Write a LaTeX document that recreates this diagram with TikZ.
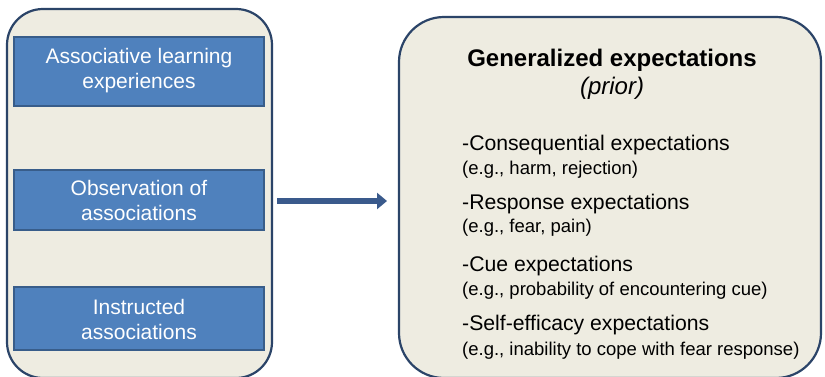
\documentclass[tikz,border=0pt]{standalone}
\usepackage{fontspec}
\setmainfont{Liberation Sans}
\usetikzlibrary{arrows.meta}
\definecolor{panelfill}{HTML}{EEECE1}
\definecolor{panelline}{HTML}{2B4468}
\definecolor{bluefill}{HTML}{4F81BD}
\definecolor{blueline}{HTML}{385D8A}
\definecolor{arrowcol}{HTML}{3A5A8C}
\tikzset{
  panel/.style={draw=panelline, fill=panelfill, line width=2.2pt},
  bluebox/.style={draw=blueline, fill=bluefill, line width=1.2pt},
  bluetext/.style={text=white, align=center, font=\fontsize{21}{25}\selectfont, inner sep=0pt},
  itemhead/.style={anchor=base west, inner sep=0pt, font=\fontsize{21.2}{25}\selectfont},
  itemsub/.style={anchor=base west, inner sep=0pt, font=\fontsize{18.5}{22}\selectfont},
}
\begin{document}
\begin{tikzpicture}[x=1pt,y=-1pt]
\useasboundingbox (0,0) rectangle (825,377);
\clip (0,0) rectangle (825,377);
\fill[white] (0,0) rectangle (825,377);
% left panel
\draw[panel, rounded corners=36pt] (7,9) rectangle (272,378);
\draw[bluebox] (14,37) rectangle (264,106);
\node[bluetext] (b1) at (139,71) {Associative learning\\experiences};
\draw[bluebox] (14,170) rectangle (264,230);
\node[bluetext] (b2) at (139,200) {Observation of\\associations};
\draw[bluebox] (14,287) rectangle (264,350);
\node[bluetext] (b3) at (139,319) {Instructed\\associations};
% right panel
\draw[panel, rounded corners=45pt] (399,17) rectangle (821,378);
\node[anchor=base, inner sep=0pt, font=\fontsize{24}{28}\selectfont\bfseries] (title) at (612,67) {Generalized expectations};
\node[anchor=base, inner sep=0pt, font=\fontsize{24}{28}\selectfont\itshape] (prior) at (612,95) {(prior)};
\node[itemhead] (h1) at (462,150) {-Consequential expectations};
\node[itemsub]  (s1) at (462,175) {(e.g., harm, rejection)};
\node[itemhead] (h2) at (462,209) {-Response expectations};
\node[itemsub]  (s2) at (462,233) {(e.g., fear, pain)};
\node[itemhead] (h3) at (462,271) {-Cue expectations};
\node[itemsub]  (s3) at (462,295) {(e.g., probability of encountering cue)};
\node[itemhead] (h4) at (462,330) {-Self-efficacy expectations};
\node[itemsub]  (s4) at (462,355) {(e.g., inability to cope with fear response)};
% arrow
\coordinate (a0) at (277,201);
\coordinate (a1) at (387,201);
\draw[arrowcol, line width=6pt, -{Triangle[length=10pt,width=16pt]}] (a0) -- (a1);
\end{tikzpicture}
\end{document}
